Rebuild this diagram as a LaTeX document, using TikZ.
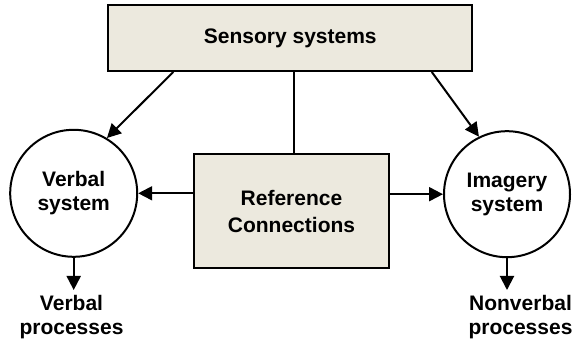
\documentclass[tikz,border=0pt]{standalone}
\usepackage{fontspec}
\setmainfont{Liberation Sans}
\usetikzlibrary{arrows.meta}
\definecolor{boxfill}{RGB}{236,233,222}
\begin{document}
\begin{tikzpicture}[x=1pt,y=-1pt,
  lbl/.style={font=\bfseries\fontsize{21}{24}\selectfont, align=center},
  panel/.style={draw, line width=2pt, fill=boxfill, inner sep=0pt, lbl},
  sys/.style={draw, circle, line width=2pt, inner sep=0pt, minimum size=127pt, lbl},
  outtext/.style={lbl, inner sep=0pt, anchor=north},
  arr/.style={line width=2pt, -{Triangle[length=14pt,width=14pt]}},
  link/.style={line width=2pt}]
\useasboundingbox (0,0) rectangle (578,344);

% boxes
\node[panel, minimum width=364pt, minimum height=66pt] (ss) at (290.3,38) {Sensory systems};
\node[panel, minimum width=195pt, minimum height=114pt,
      font=\bfseries\fontsize{21}{27}\selectfont] (rc) at (291.5,211) {Reference\\Connections};

% the two systems
\node[sys] (vs) at (73.7,193.3) {Verbal\\system};
\node[sys, minimum size=126pt] (is) at (507,194.2) {Imagery\\system};

% outputs
\node[outtext] (vp) at (71.5,295) {Verbal\\processes};
\node[outtext] (np) at (520.5,295) {Nonverbal\\processes};

% connectors
\draw[arr] ([xshift=66pt]ss.south west) -- (vs.59);
\draw[arr] ([xshift=-41.5pt]ss.south east) -- (is.116);
\draw[link] ([xshift=2.5pt]rc.north) -- ([xshift=2.5pt]rc.north |- ss.south);
\draw[arr] (rc.west |- vs.east) -- (vs.east);
\draw[arr] (rc.east |- is.west) -- (is.west);
\draw[arr, shorten >=5pt] (vs.south) -- (vs.south |- vp.north);
\draw[arr, shorten >=5pt] (is.south) -- (is.south |- np.north);
\end{tikzpicture}
\end{document}
